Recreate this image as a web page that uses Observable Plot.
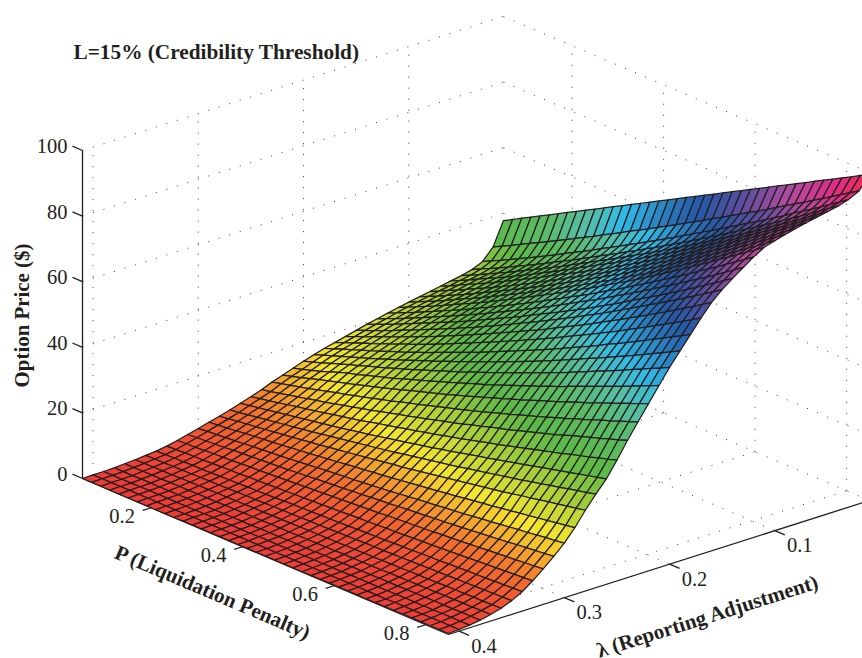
<!DOCTYPE html>
<html><head><meta charset="utf-8">
<style>html,body{margin:0;padding:0;background:#fff}</style>
<script src="https://cdn.jsdelivr.net/npm/d3@7"></script>
<script src="https://cdn.jsdelivr.net/npm/@observablehq/plot@0.6"></script>
</head><body><div id="chart"></div>
<script>
// Option price by P (columns, 0.05..0.85 step 0.02) and lambda (rows, 0.01..0.41 step 0.01).
// Edge values; interior values hand-estimated from edges and colour bands.
const pTicks=[0.2,0.4,0.6,0.8];
const lambdaTicks=[0.1,0.2,0.3,0.4];
const zTicks=[0,20,40,60,80,100];
const colorStops=[0,8,16.7,25,33,42,49,55,62,68,76,84,92,100];
const colorValues=["#ef3b36","#f3702d","#f5e62c","#a8cf38","#5cb947","#5abb66","#55bfa8","#2fbbe8","#2a7fc0","#2458a8","#5f4ea0","#b24a9e","#e32d85","#ee2a45"];
const priceRows=[
[37.8,39.3,40.9,42.4,44.0,45.5,47.0,48.6,50.1,51.7,53.2,54.7,56.3,57.8,59.4,60.9,62.4,64.0,65.5,67.1,68.6,70.1,71.7,73.2,74.8,76.3,77.8,79.4,80.9,82.5,84.0,85.5,87.1,88.6,90.2,91.7,93.2,94.8,96.3,97.9,99.4],
[30.7,32.2,33.6,35.1,36.6,38.0,39.5,41.0,42.5,44.1,45.6,47.1,48.7,50.2,51.8,53.4,54.9,56.5,58.1,59.7,61.3,63.0,64.6,66.2,67.9,69.5,71.2,72.9,74.6,76.2,77.9,79.7,81.4,83.1,84.8,86.6,88.3,90.1,91.9,93.6,95.4],
[27.3,28.7,30.1,31.5,33.0,34.4,35.9,37.4,38.9,40.5,42.0,43.5,45.1,46.7,48.3,49.9,51.5,53.1,54.7,56.4,58.0,59.7,61.4,63.1,64.8,66.5,68.2,70.0,71.7,73.5,75.2,77.0,78.8,80.6,82.5,84.3,86.1,88.0,89.9,91.8,93.8],
[25.9,27.3,28.6,30.0,31.4,32.9,34.3,35.8,37.3,38.9,40.4,41.9,43.5,45.1,46.7,48.3,49.9,51.5,53.1,54.8,56.4,58.1,59.8,61.5,63.2,65.0,66.7,68.5,70.3,72.1,73.9,75.7,77.6,79.4,81.3,83.2,85.1,87.0,88.9,90.9,92.8],
[25.1,26.4,27.8,29.2,30.6,32.0,33.5,35.0,36.5,38.0,39.5,41.0,42.6,44.2,45.8,47.4,49.0,50.6,52.2,53.9,55.5,57.2,58.9,60.6,62.3,64.0,65.8,67.6,69.4,71.2,73.0,74.8,76.7,78.6,80.5,82.4,84.3,86.2,88.2,90.1,92.1],
[24.5,25.8,27.2,28.6,30.0,31.4,32.8,34.3,35.8,37.3,38.8,40.3,41.9,43.5,45.1,46.7,48.3,49.9,51.5,53.2,54.8,56.5,58.2,59.9,61.6,63.3,65.1,66.9,68.7,70.5,72.3,74.1,76.0,77.9,79.8,81.7,83.6,85.6,87.5,89.5,91.5],
[23.9,25.2,26.6,28.0,29.4,30.8,32.2,33.7,35.2,36.7,38.2,39.7,41.3,42.8,44.4,45.9,47.5,49.1,50.7,52.4,54.0,55.7,57.4,59.1,60.8,62.6,64.3,66.1,67.9,69.8,71.6,73.4,75.3,77.2,79.1,81.0,83.0,84.9,86.9,88.8,90.8],
[23.3,24.6,26.0,27.3,28.7,30.1,31.5,32.9,34.4,35.9,37.4,38.9,40.4,42.0,43.6,45.2,46.8,48.4,50.0,51.6,53.3,55.0,56.6,58.3,60.1,61.8,63.5,65.3,67.1,69.0,70.8,72.7,74.5,76.4,78.3,80.3,82.2,84.1,86.1,88.1,90.1],
[22.7,24.0,25.3,26.7,28.0,29.4,30.8,32.3,33.7,35.2,36.7,38.2,39.7,41.3,42.8,44.4,46.0,47.6,49.2,50.9,52.5,54.2,55.8,57.5,59.3,61.0,62.7,64.5,66.3,68.2,70.0,71.9,73.7,75.6,77.5,79.5,81.4,83.4,85.3,87.3,89.3],
[22.1,23.4,24.7,26.0,27.4,28.8,30.2,31.6,33.0,34.5,36.0,37.5,39.0,40.5,42.1,43.6,45.2,46.8,48.4,50.0,51.6,53.3,54.9,56.6,58.4,60.1,61.8,63.6,65.4,67.3,69.1,71.0,72.8,74.7,76.6,78.6,80.5,82.5,84.4,86.4,88.4],
[21.5,22.8,24.1,25.4,26.7,28.1,29.5,30.9,32.3,33.7,35.2,36.7,38.2,39.7,41.3,42.8,44.4,45.9,47.5,49.2,50.8,52.4,54.1,55.8,57.5,59.2,60.9,62.7,64.5,66.4,68.2,70.0,71.9,73.8,75.7,77.7,79.6,81.5,83.5,85.4,87.4],
[20.8,22.1,23.3,24.6,25.9,27.3,28.6,30.0,31.3,32.7,34.2,35.6,37.1,38.6,40.1,41.6,43.2,44.7,46.3,47.9,49.5,51.1,52.7,54.4,56.1,57.8,59.5,61.3,63.0,64.8,66.6,68.4,70.2,72.1,74.0,75.8,77.7,79.7,81.6,83.5,85.5],
[20.1,21.3,22.5,23.8,25.1,26.4,27.7,29.1,30.4,31.8,33.2,34.6,36.0,37.5,39.0,40.4,41.9,43.4,45.0,46.5,48.1,49.7,51.3,52.9,54.5,56.2,57.9,59.6,61.3,63.0,64.8,66.6,68.3,70.1,72.0,73.8,75.6,77.5,79.4,81.4,83.3],
[19.4,20.6,21.8,23.0,24.3,25.6,26.9,28.2,29.5,30.8,32.1,33.5,34.9,36.3,37.7,39.2,40.6,42.1,43.6,45.1,46.6,48.1,49.7,51.2,52.8,54.4,56.1,57.7,59.4,61.2,62.9,64.6,66.3,68.1,69.9,71.7,73.5,75.4,77.2,79.1,81.0],
[18.6,19.8,20.9,22.1,23.3,24.6,25.8,27.1,28.4,29.7,31.0,32.3,33.7,35.0,36.4,37.8,39.2,40.7,42.2,43.6,45.1,46.6,48.1,49.7,51.2,52.8,54.4,56.0,57.6,59.3,61.0,62.7,64.4,66.1,67.8,69.5,71.3,73.1,74.9,76.7,78.6],
[17.8,18.9,20.1,21.2,22.4,23.6,24.8,26.0,27.2,28.4,29.7,31.0,32.3,33.6,35.0,36.3,37.7,39.1,40.5,41.9,43.3,44.7,46.2,47.7,49.2,50.7,52.2,53.8,55.4,57.0,58.6,60.2,61.9,63.5,65.2,66.9,68.6,70.4,72.1,73.9,75.7],
[17.0,18.1,19.2,20.3,21.4,22.5,23.7,24.8,26.0,27.1,28.3,29.5,30.8,32.1,33.4,34.7,36.0,37.3,38.6,40.0,41.3,42.7,44.1,45.5,46.9,48.4,49.9,51.3,52.8,54.3,55.8,57.3,58.9,60.5,62.1,63.7,65.3,66.9,68.6,70.3,72.0],
[16.2,17.2,18.3,19.3,20.4,21.4,22.5,23.6,24.6,25.7,26.9,28.0,29.2,30.4,31.6,32.8,34.0,35.2,36.5,37.8,39.1,40.4,41.7,43.0,44.3,45.7,47.1,48.5,49.9,51.3,52.8,54.3,55.7,57.2,58.7,60.2,61.8,63.3,64.9,66.4,68.0],
[15.3,16.3,17.3,18.3,19.3,20.3,21.3,22.3,23.4,24.4,25.5,26.6,27.7,28.8,29.9,31.1,32.2,33.4,34.5,35.7,36.9,38.1,39.3,40.6,41.8,43.1,44.4,45.7,47.1,48.4,49.8,51.1,52.5,53.9,55.3,56.7,58.1,59.6,61.0,62.5,64.0],
[14.3,15.2,16.2,17.2,18.2,19.2,20.1,21.1,22.0,23.0,24.0,25.0,26.0,27.1,28.1,29.2,30.2,31.3,32.4,33.6,34.7,35.8,37.0,38.1,39.3,40.5,41.7,42.9,44.1,45.4,46.7,48.0,49.3,50.6,51.9,53.2,54.6,55.9,57.3,58.6,60.0],
[13.2,14.0,14.9,15.8,16.8,17.9,18.8,19.6,20.5,21.4,22.3,23.2,24.2,25.2,26.1,27.1,28.1,29.1,30.1,31.2,32.2,33.2,34.3,35.4,36.5,37.6,38.7,39.8,41.0,42.1,43.3,44.5,45.7,46.9,48.1,49.3,50.5,51.7,53.0,54.2,55.5],
[12.1,12.9,13.7,14.6,15.5,16.3,17.1,17.9,18.7,19.6,20.4,21.3,22.2,23.1,24.0,24.9,25.8,26.7,27.6,28.6,29.5,30.5,31.5,32.5,33.5,34.5,35.5,36.6,37.6,38.7,39.7,40.8,41.9,43.0,44.1,45.3,46.4,47.5,48.7,49.8,51.0],
[11.0,11.7,12.4,13.1,13.8,14.6,15.3,16.1,16.8,17.6,18.3,19.1,19.9,20.7,21.6,22.4,23.2,24.1,24.9,25.8,26.6,27.5,28.4,29.3,30.2,31.2,32.1,33.1,34.1,35.0,36.0,37.0,38.0,39.1,40.1,41.2,42.2,43.2,44.3,45.3,46.4],
[9.7,10.3,11.0,11.6,12.3,12.9,13.6,14.2,14.9,15.6,16.3,17.0,17.7,18.5,19.2,20.0,20.7,21.5,22.2,23.0,23.8,24.6,25.4,26.3,27.1,28.0,28.8,29.6,30.5,31.4,32.3,33.2,34.1,35.1,36.1,37.0,38.0,38.9,39.9,40.8,41.8],
[8.6,9.2,9.7,10.3,10.9,11.5,12.0,12.6,13.2,13.8,14.4,15.0,15.6,16.3,17.0,17.6,18.3,19.0,19.6,20.3,21.0,21.7,22.4,23.1,23.9,24.6,25.4,26.1,26.9,27.7,28.5,29.3,30.1,30.9,31.7,32.6,33.4,34.2,35.1,35.9,36.8],
[7.6,8.1,8.6,9.1,9.6,10.1,10.6,11.1,11.6,12.1,12.6,13.1,13.7,14.3,14.8,15.4,16.0,16.6,17.2,17.8,18.4,19.0,19.7,20.3,21.0,21.7,22.4,23.0,23.7,24.4,25.1,25.8,26.5,27.2,27.9,28.6,29.3,30.0,30.7,31.4,32.1],
[6.6,7.0,7.5,7.9,8.4,8.8,9.3,9.7,10.2,10.6,11.1,11.6,12.1,12.6,13.1,13.6,14.1,14.6,15.1,15.7,16.2,16.8,17.3,17.9,18.4,19.0,19.6,20.2,20.8,21.4,22.0,22.6,23.2,23.9,24.5,25.2,25.8,26.5,27.2,27.8,28.5],
[5.7,6.1,6.5,6.9,7.2,7.6,8.0,8.4,8.8,9.2,9.6,10.0,10.5,10.9,11.3,11.8,12.2,12.7,13.1,13.6,14.0,14.5,15.0,15.5,16.0,16.5,17.0,17.5,18.0,18.5,19.0,19.5,20.1,20.7,21.2,21.8,22.4,22.9,23.5,24.0,24.6],
[4.9,5.2,5.5,5.8,6.2,6.5,6.8,7.1,7.4,7.8,8.1,8.4,8.8,9.2,9.5,9.9,10.3,10.6,11.0,11.3,11.7,12.1,12.5,12.9,13.3,13.7,14.1,14.5,15.0,15.4,15.8,16.2,16.7,17.1,17.6,18.0,18.5,18.9,19.4,19.8,20.3],
[4.0,4.3,4.5,4.8,5.0,5.3,5.6,5.8,6.1,6.3,6.6,6.9,7.2,7.5,7.8,8.1,8.4,8.6,8.9,9.2,9.5,9.8,10.2,10.5,10.9,11.2,11.5,11.9,12.2,12.5,12.9,13.3,13.6,14.0,14.4,14.8,15.1,15.5,15.9,16.2,16.6],
[3.2,3.4,3.6,3.8,4.0,4.3,4.5,4.7,4.9,5.1,5.3,5.5,5.8,6.0,6.3,6.5,6.8,7.0,7.3,7.5,7.8,8.1,8.3,8.6,8.9,9.1,9.4,9.7,9.9,10.2,10.5,10.8,11.1,11.4,11.7,12.0,12.4,12.7,13.0,13.3,13.6],
[2.4,2.6,2.7,2.9,3.1,3.2,3.4,3.6,3.8,3.9,4.1,4.3,4.5,4.7,4.9,5.1,5.3,5.5,5.7,5.9,6.1,6.3,6.5,6.8,7.0,7.2,7.4,7.6,7.8,8.1,8.3,8.5,8.8,9.0,9.3,9.5,9.8,10.0,10.3,10.5,10.8],
[1.7,1.8,2.0,2.1,2.2,2.3,2.5,2.6,2.7,2.9,3.0,3.1,3.3,3.4,3.6,3.7,3.9,4.0,4.2,4.3,4.5,4.7,4.8,5.0,5.2,5.3,5.5,5.7,5.9,6.0,6.2,6.4,6.6,6.8,7.0,7.2,7.4,7.6,7.8,8.0,8.2],
[1.2,1.3,1.4,1.5,1.6,1.6,1.7,1.8,1.9,2.0,2.1,2.2,2.3,2.4,2.6,2.7,2.8,2.9,3.0,3.1,3.2,3.3,3.5,3.6,3.7,3.8,4.0,4.1,4.2,4.4,4.5,4.6,4.8,4.9,5.1,5.2,5.3,5.5,5.6,5.8,5.9],
[0.9,1.0,1.0,1.1,1.2,1.2,1.3,1.4,1.4,1.5,1.6,1.7,1.7,1.8,1.9,2.0,2.0,2.1,2.2,2.2,2.3,2.4,2.5,2.6,2.7,2.8,2.8,2.9,3.0,3.1,3.2,3.3,3.4,3.5,3.6,3.7,3.8,3.9,4.0,4.1,4.2],
[0.6,0.7,0.7,0.8,0.8,0.9,0.9,1.0,1.0,1.1,1.1,1.2,1.2,1.3,1.3,1.4,1.4,1.5,1.5,1.6,1.6,1.7,1.7,1.8,1.8,1.9,1.9,2.0,2.1,2.1,2.2,2.3,2.3,2.4,2.5,2.6,2.6,2.7,2.7,2.8,2.9],
[0.4,0.4,0.5,0.5,0.5,0.6,0.6,0.6,0.7,0.7,0.7,0.8,0.8,0.9,0.9,0.9,1.0,1.0,1.0,1.1,1.1,1.1,1.2,1.2,1.3,1.3,1.3,1.4,1.4,1.5,1.5,1.6,1.6,1.7,1.7,1.8,1.8,1.9,1.9,2.0,2.0],
[0.2,0.2,0.2,0.3,0.3,0.3,0.3,0.3,0.4,0.4,0.4,0.4,0.5,0.5,0.5,0.5,0.6,0.6,0.6,0.7,0.7,0.7,0.7,0.8,0.8,0.8,0.9,0.9,0.9,1.0,1.0,1.0,1.1,1.1,1.1,1.2,1.2,1.2,1.3,1.3,1.3],
[0.1,0.1,0.1,0.1,0.2,0.2,0.2,0.2,0.2,0.2,0.2,0.3,0.3,0.3,0.3,0.3,0.3,0.4,0.4,0.4,0.4,0.4,0.5,0.5,0.5,0.5,0.5,0.6,0.6,0.6,0.6,0.6,0.7,0.7,0.7,0.7,0.7,0.8,0.8,0.8,0.8],
[0.1,0.1,0.1,0.1,0.1,0.1,0.1,0.1,0.1,0.1,0.1,0.2,0.2,0.2,0.2,0.2,0.2,0.2,0.2,0.2,0.2,0.2,0.2,0.3,0.3,0.3,0.3,0.3,0.3,0.3,0.3,0.3,0.3,0.4,0.4,0.4,0.4,0.5,0.5,0.5,0.5],
[0,0,0,0,0,0,0,0,0,0,0,0.1,0.1,0.1,0.1,0.1,0.1,0.1,0.1,0.1,0.1,0.1,0.1,0.1,0.1,0.1,0.2,0.2,0.2,0.2,0.2,0.2,0.2,0.2,0.2,0.3,0.3,0.3,0.3,0.3,0.3]
];
const pMin=0.05,pMax=0.85,lMin=0.01,lMax=0.41;
const pValues=priceRows[0].map((_,i)=>pMin+0.02*i);
const lambdaValues=priceRows.map((_,j)=>lMin+0.01*j);

// Orthographic view of the MATLAB-style 3-D box.
const sx=(p,l)=>82+(p-pMin)*457.5+(lMax-l)*1052.5;
const sy=(p,l,z)=>478+(p-pMin)*195-(lMax-l)*335-z*3.28;

const cells=[];
priceRows.slice(0,-1).forEach((row,j)=>{
  row.slice(0,-1).forEach((_,i)=>{
    const c=[[i,j],[i+1,j],[i+1,j+1],[i,j+1],[i,j]];
    const v=(priceRows[j][i]+priceRows[j][i+1]+priceRows[j+1][i]+priceRows[j+1][i+1])/4;
    c.forEach(([a,b])=>cells.push({
      id:j*100+i,v,
      x:sx(pValues[a],lambdaValues[b]),
      y:sy(pValues[a],lambdaValues[b],priceRows[b][a])
    }));
  });
});

const seg=(a,b)=>({x1:sx(a[0],a[1]),y1:sy(a[0],a[1],a[2]),x2:sx(b[0],b[1]),y2:sy(b[0],b[1],b[2])});
const grid=[
  ...zTicks.map(z=>seg([pMin,lMax,z],[pMin,lMin,z])),
  ...zTicks.map(z=>seg([pMin,lMin,z],[pMax,lMin,z])),
  ...lambdaTicks.map(l=>seg([pMin,l,0],[pMin,l,100])),
  ...pTicks.map(p=>seg([p,lMin,0],[p,lMin,100])),
  ...pTicks.map(p=>seg([p,lMax,0],[p,lMin,0])),
  ...lambdaTicks.map(l=>seg([pMin,l,0],[pMax,l,0]))
];
const axes=[
  seg([pMin,lMax,0],[pMin,lMax,100]),
  seg([pMin,lMax,0],[pMax,lMax,0]),
  seg([pMax,lMax,0],[pMax,lMin,0]),
  ...zTicks.map(z=>seg([pMin,lMax,z],[pMin-0.022,lMax,z])),
  ...pTicks.map(p=>seg([p,lMax,0],[p,lMax+0.008,0])),
  ...lambdaTicks.map(l=>seg([pMax,l,0],[pMax+0.022,l,0]))
];
const ink="#231f20",serif="Liberation Serif";
const tickText=(rows,dx,dy,anchor)=>Plot.text(rows,{x:"x",y:"y",text:"t",dx,dy,textAnchor:anchor,lineAnchor:"middle",fontFamily:serif,fontSize:20.5,fill:ink});
const titles=[
  {t:"L=15% (Credibility Threshold)",x:73,y:52,r:0,a:"start",s:21.3},
  {t:"Option Price ($)",x:22,y:315,r:-90,a:"middle",s:20.9},
  {t:"P (Liquidation Penalty)",x:212,y:592,r:23,a:"middle",s:21},
  {t:"λ (Reporting Adjustment)",x:707,y:616,r:-17.6,a:"middle",s:21}
];

const chart=Plot.plot({
  width:862,height:658,margin:0,
  x:{domain:[0,862],range:[0,862],axis:null},
  y:{domain:[0,658],range:[0,658],axis:null},
  color:{type:"linear",domain:colorStops,range:colorValues,interpolate:"rgb",legend:false},
  marks:[
    Plot.link(grid,{x1:"x1",y1:"y1",x2:"x2",y2:"y2",stroke:"#3a3a3a",strokeWidth:1,strokeDasharray:"1 10"}),
    Plot.link(axes,{x1:"x1",y1:"y1",x2:"x2",y2:"y2",stroke:ink,strokeWidth:1.3}),
    Plot.line(cells,{x:"x",y:"y",z:"id",fill:"v",stroke:ink,strokeWidth:1.25,strokeLinejoin:"round"}),
    tickText(zTicks.map(z=>({t:String(z),x:sx(pMin,lMax),y:sy(pMin,lMax,z)})),-15,-4,"end"),
    tickText(pTicks.map(p=>({t:p.toFixed(1),x:sx(p,lMax),y:sy(p,lMax,0)})),-29,9,"middle"),
    tickText(lambdaTicks.map(l=>({t:l.toFixed(1),x:sx(pMax,l),y:sy(pMax,l,0)})),25,15,"middle"),
    ...titles.map(d=>Plot.text([d],{x:"x",y:"y",text:"t",rotate:d.r,textAnchor:d.a,lineAnchor:"middle",fontFamily:serif,fontWeight:"bold",fontSize:d.s,fill:ink}))
  ]
});
document.getElementById("chart").appendChild(chart);
</script></body></html>
